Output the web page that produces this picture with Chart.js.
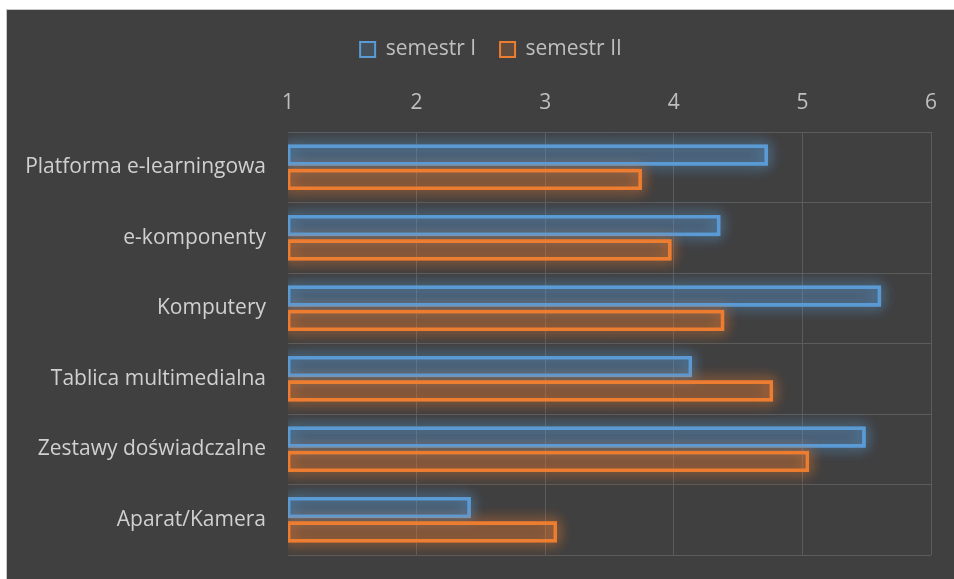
<!DOCTYPE html>
<html>
<head>
<meta charset="utf-8">
<script src="https://cdn.jsdelivr.net/npm/chart.js@4/dist/chart.umd.min.js"></script>
<style>
  body { margin: 0; background: #ffffff; }
  #wrap {
    position: absolute;
    left: 6px;
    top: 9px;
    border-left: 1px solid #c8c8c8;
    border-top: 1px solid #c8c8c8;
  }
  #wykres { display: block; background: #404040; }
</style>
</head>
<body>
<div id="wrap">
  <canvas id="wykres" width="947" height="569"></canvas>
</div>
<script>
// Oceny pomocy dydaktycznych (skala 1-6)
const kategorie = [
    'Platforma e-learningowa',
    'e-komponenty',
    'Komputery',
    'Tablica multimedialna',
    'Zestawy doświadczalne',
    'Aparat/Kamera'
];
const semestr1 = [4.72, 4.35, 5.60, 4.13, 5.48, 2.41];
const semestr2 = [3.74, 3.97, 4.38, 4.76, 5.04, 3.08];
const skalaTicks = [1, 2, 3, 4, 5, 6];

const niebieski = '#5b9bd5';
const pomaranczowy = '#ed7d31';

// Poświata wokół słupków (rysowana pod właściwymi słupkami)
const poswiata = {
    id: 'poswiata',
    afterLayout(chart) {
        // legenda wyśrodkowana nad obszarem wykresu
        chart.legend.left += 22;
        chart.legend.right += 22;
    },
    beforeDatasetsDraw(chart) {
        const ctx = chart.ctx;
        const area = chart.chartArea;
        ctx.save();
        ctx.beginPath();
        ctx.rect(area.left, area.top - 20, area.right - area.left + 20, area.bottom - area.top + 40);
        ctx.clip();
        chart.data.datasets.forEach((ds, i) => {
            const meta = chart.getDatasetMeta(i);
            meta.data.forEach(el => {
                const p = el.getProps(['x', 'y', 'base', 'height'], true);
                ctx.shadowColor = ds.glowColor;
                ctx.shadowBlur = 14;
                ctx.strokeStyle = ds.glowColor;
                ctx.lineWidth = 3;
                for (let k = 0; k < 2; k++) {
                    ctx.strokeRect(p.base, p.y - p.height / 2, p.x - p.base, p.height);
                }
            });
        });
        ctx.restore();
    }
};

Chart.defaults.font.family = "'Open Sans', sans-serif";
Chart.defaults.font.size = 21;
Chart.defaults.color = '#bfbfbf';

const ctx = document.getElementById('wykres').getContext('2d');
new Chart(ctx, {
    type: 'bar',
    data: {
        labels: kategorie,
        datasets: [
            {
                label: 'semestr I',
                data: semestr1,
                base: 1,
                borderColor: niebieski,
                backgroundColor: 'rgba(91, 155, 213, 0.2)',
                glowColor: 'rgba(91, 155, 213, 0.9)',
                borderWidth: 2,
                borderSkipped: false
            },
            {
                label: 'semestr II',
                data: semestr2,
                base: 1,
                borderColor: pomaranczowy,
                backgroundColor: 'rgba(237, 125, 49, 0.2)',
                glowColor: 'rgba(237, 125, 49, 0.9)',
                borderWidth: 2,
                borderSkipped: false
            }
        ]
    },
    options: {
        indexAxis: 'y',
        responsive: false,
        animation: false,
        devicePixelRatio: 1,
        categoryPercentage: 0.69,
        barPercentage: 0.74,
        layout: {
            padding: { top: 5, left: 0, right: 23, bottom: 24 }
        },
        plugins: {
            legend: {
                position: 'top',
                labels: {
                    boxWidth: 15,
                    boxHeight: 15,
                    padding: 24,
                    color: '#bfbfbf',
                    font: { size: 21 }
                }
            },
            tooltip: { enabled: false }
        },
        scales: {
            x: {
                position: 'top',
                min: 1,
                max: 6,
                afterBuildTicks: axis => {
                    axis.ticks = skalaTicks.map(v => ({ value: v }));
                },
                afterFit: axis => { axis.height = 62; },
                border: { display: false },
                grid: {
                    drawTicks: false,
                    color: c => c.index === 0 ? 'rgba(0,0,0,0)' : '#5c5c5c',
                    lineWidth: 1
                },
                ticks: {
                    padding: 16,
                    color: '#bfbfbf',
                    font: { size: 21 }
                }
            },
            y: {
                afterFit: axis => {
                    axis.width = 281;
                    axis.paddingTop = 0;
                    axis.paddingBottom = 0;
                },
                border: { display: false },
                grid: {
                    offset: true,
                    drawTicks: false,
                    color: '#5c5c5c',
                    lineWidth: 1
                },
                ticks: {
                    padding: 22,
                    color: '#d0d0d0',
                    font: { size: 21 }
                }
            }
        }
    },
    plugins: [poswiata]
});
</script>
</body>
</html>
